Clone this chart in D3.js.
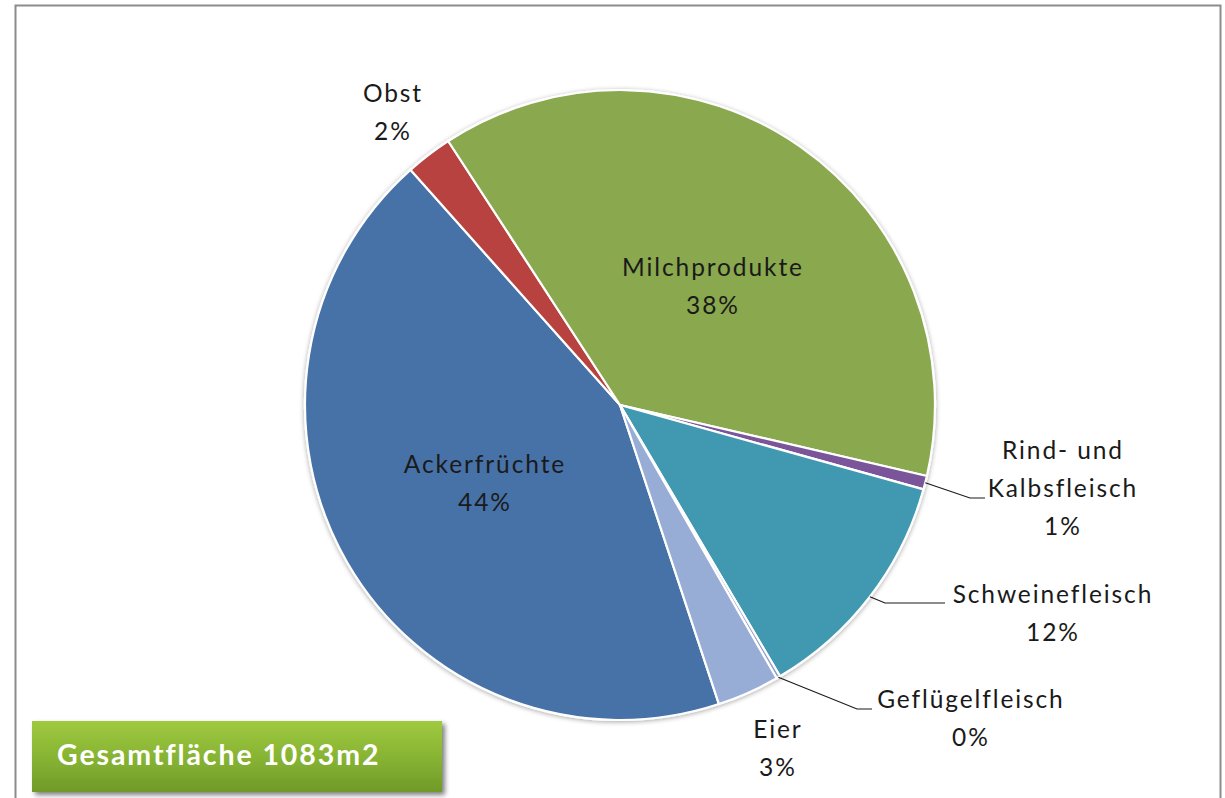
<!DOCTYPE html>
<html lang="de">
<head>
<meta charset="utf-8">
<script src="https://cdn.jsdelivr.net/npm/d3@7"></script>
<style>
  html, body { margin: 0; padding: 0; background: #fff; }
  svg { display: block; }
  text { font-family: Lato, "Open Sans", sans-serif; }
</style>
</head>
<body>
<svg id="chart" width="1225" height="798"></svg>
<script>
// Flächenbedarf nach Lebensmittelgruppe (Anteil in %)
const categories = ["Ackerfrüchte", "Obst", "Milchprodukte", "Rind- und Kalbsfleisch",
                    "Schweinefleisch", "Geflügelfleisch", "Eier"];
const shares = [43.5, 2.4, 37.8, 0.7, 12.2, 0.2, 3.2];
const totalArea = "Gesamtfläche 1083m2";

const colors = ["#4672a8", "#b8433f", "#8aa84e", "#7a559a", "#4099b0", "#9aa0c8", "#97add5"];

const svg = d3.select("#chart");
const cx = 620, cy = 405, R = 315;

// chart frame
svg.append("rect")
  .attr("x", 15.5).attr("y", 5.5).attr("width", 1205).attr("height", 820)
  .attr("fill", "#fff").attr("stroke", "#8c8c8c").attr("stroke-width", 2);

const defs = svg.append("defs");
const shadow = defs.append("filter").attr("id", "pieShadow")
  .attr("x", "-10%").attr("y", "-10%").attr("width", "120%").attr("height", "120%");
shadow.append("feGaussianBlur").attr("in", "SourceAlpha").attr("stdDeviation", 2.5).attr("result", "b");
shadow.append("feOffset").attr("in", "b").attr("dx", 0).attr("dy", 1).attr("result", "o");
shadow.append("feComponentTransfer").attr("in", "o").attr("result", "s")
  .append("feFuncA").attr("type", "linear").attr("slope", 0.35);
const m1 = shadow.append("feMerge");
m1.append("feMergeNode").attr("in", "s");
m1.append("feMergeNode").attr("in", "SourceGraphic");

const boxGrad = defs.append("linearGradient").attr("id", "boxGrad")
  .attr("x1", 0).attr("y1", 0).attr("x2", 0).attr("y2", 1);
boxGrad.append("stop").attr("offset", "0%").attr("stop-color", "#9fc93f");
boxGrad.append("stop").attr("offset", "55%").attr("stop-color", "#86b233");
boxGrad.append("stop").attr("offset", "100%").attr("stop-color", "#6f9a28");

const boxShadow = defs.append("filter").attr("id", "boxShadow")
  .attr("x", "-5%").attr("y", "-20%").attr("width", "115%").attr("height", "150%");
boxShadow.append("feGaussianBlur").attr("in", "SourceAlpha").attr("stdDeviation", 2.5).attr("result", "b");
boxShadow.append("feOffset").attr("in", "b").attr("dx", 3).attr("dy", 3).attr("result", "o");
boxShadow.append("feComponentTransfer").attr("in", "o").attr("result", "s")
  .append("feFuncA").attr("type", "linear").attr("slope", 0.5);
const m2 = boxShadow.append("feMerge");
m2.append("feMergeNode").attr("in", "s");
m2.append("feMergeNode").attr("in", "SourceGraphic");

// pie layout, clockwise from the Ackerfrüchte slice
const startA = 161.7 * Math.PI / 180;
const pie = d3.pie().sort(null).value(d => d.v)
  .startAngle(startA).endAngle(startA + 2 * Math.PI);
const data = categories.map((c, i) => ({ c, v: shares[i], col: colors[i] }));
const arcs = pie(data);
const arc = d3.arc().innerRadius(0).outerRadius(R);

const g = svg.append("g").attr("transform", `translate(${cx},${cy})`);
g.append("g").attr("filter", "url(#pieShadow)")
  .selectAll("path").data(arcs).join("path")
  .attr("d", arc)
  .attr("fill", d => d.data.col)
  .attr("stroke", "#fff").attr("stroke-width", 2.2).attr("stroke-linejoin", "round");

const pct = d => `${Math.round(d.data.v)}%`;

// label placement: text lines, anchor centre, and leader line for outside labels
const labelLayout = {
  "Ackerfrüchte":           { x: 484, y: 473, lines: ["Ackerfrüchte"] },
  "Obst":                   { x: 392, y: 102, lines: ["Obst"] },
  "Milchprodukte":          { x: 712, y: 276, lines: ["Milchprodukte"] },
  "Rind- und Kalbsfleisch": { x: 1062, y: 459, lines: ["Rind- und", "Kalbsfleisch"], leader: [[970, 498], [985, 498]] },
  "Schweinefleisch":        { x: 1052, y: 603, lines: ["Schweinefleisch"], leader: [[885, 603], [945, 603]] },
  "Geflügelfleisch":        { x: 970, y: 708, lines: ["Geflügelfleisch"], leader: [[857, 709], [872, 709]] },
  "Eier":                   { x: 777, y: 738, lines: ["Eier"] }
};
const lineH = 38;
const ls = 1.9;

arcs.forEach(d => {
  const L = labelLayout[d.data.c];
  if (L.leader) {
    const a = (d.startAngle + d.endAngle) / 2;
    const p0 = [cx + R * Math.sin(a), cy - R * Math.cos(a)];
    svg.append("path")
      .attr("d", d3.line()([p0, ...L.leader]))
      .attr("fill", "none").attr("stroke", "#1a1a1a").attr("stroke-width", 1.2);
  }
  const t = svg.append("text")
    .attr("text-anchor", "middle")
    .attr("font-size", 24.5)
    .attr("letter-spacing", ls)
    .attr("fill", "#1a1a1a");
  [...L.lines, pct(d)].forEach((s, i) => {
    // shift by half the trailing letter spacing so lines stay centred
    t.append("tspan").attr("x", L.x + ls / 2).attr("y", L.y + i * lineH).text(s);
  });
});

// total area box
svg.append("rect")
  .attr("x", 32).attr("y", 721).attr("width", 410).attr("height", 71)
  .attr("fill", "url(#boxGrad)").attr("filter", "url(#boxShadow)");
svg.append("text")
  .attr("x", 57).attr("y", 765)
  .attr("font-size", 28.5).attr("font-weight", "bold")
  .attr("letter-spacing", 1.9)
  .attr("fill", "#fff")
  .text(totalArea);
</script>
</body>
</html>
